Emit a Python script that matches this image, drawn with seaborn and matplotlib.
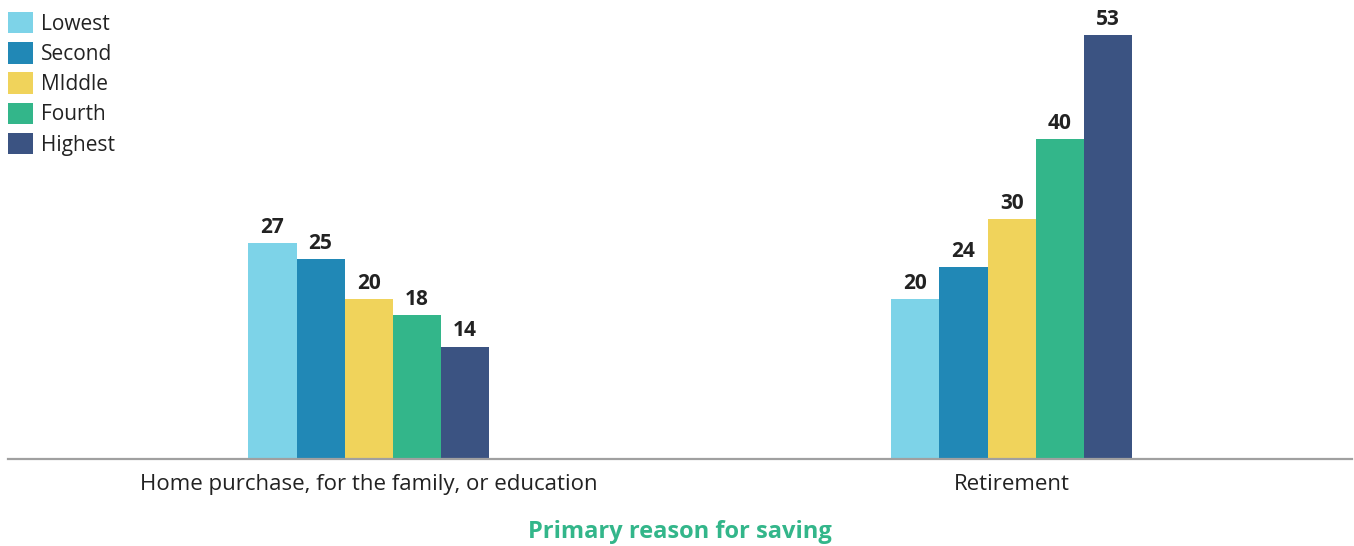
import pandas as pd
import matplotlib
matplotlib.use("Agg")
import matplotlib.pyplot as plt
import seaborn as sns

# --- data ---
REASONS = ["Home purchase, for the family, or education", "Retirement"]
QUINTILES = ["Lowest", "Second", "MIddle", "Fourth", "Highest"]
LOWEST = [27, 20]
SECOND = [25, 24]
MIDDLE = [20, 30]
FOURTH = [18, 40]
HIGHEST = [14, 53]

PALETTE = ["#7DD3E8", "#2188B6", "#F0D35B", "#33B68A", "#3B5382"]
TEXT = "#222222"
GREEN = "#33B68A"

rows = []
for q, vals in zip(QUINTILES, [LOWEST, SECOND, MIDDLE, FOURTH, HIGHEST]):
    for r, v in zip(REASONS, vals):
        rows.append({"reason": r, "quintile": q, "value": v})
df = pd.DataFrame(rows)

sns.set_theme(style="white")
plt.rcParams["font.family"] = ["Open Sans", "DejaVu Sans"]

fig = plt.figure(figsize=(13.54, 5.46), dpi=100)
ax = fig.add_axes([8 / 1354, 1 - 459 / 546, 1344 / 1354, 459 / 546])

sns.barplot(data=df, x="reason", y="value", hue="quintile", order=REASONS,
            hue_order=QUINTILES, palette=PALETTE, width=0.374, gap=0,
            saturation=1, linewidth=0, ax=ax)

for cont in ax.containers:
    ax.bar_label(cont, fmt="%d", padding=4, fontsize=15, fontweight="bold", color=TEXT)

ax.set_xlim(-0.561, 1.5295)
ax.set_ylim(0, 57.4)
ax.set_yticks([])
ax.set_ylabel("")
for s in ["top", "right", "left"]:
    ax.spines[s].set_visible(False)
ax.spines["bottom"].set_color("#A0A0A0")
ax.spines["bottom"].set_linewidth(1.6)
ax.tick_params(axis="x", length=0, pad=11, labelsize=16, labelcolor=TEXT)
ax.set_xlabel("Primary reason for saving", fontsize=17, fontweight="bold",
              color=GREEN, labelpad=18)

leg = ax.legend(loc="upper left", bbox_to_anchor=(0, 1 - 12 / 459), frameon=False,
                fontsize=15, handlelength=1.2, handleheight=1.2, handletextpad=0.4,
                labelspacing=0.36, borderaxespad=0, borderpad=0)
for t in leg.get_texts():
    t.set_color(TEXT)

fig.savefig("out.png", dpi=100)
